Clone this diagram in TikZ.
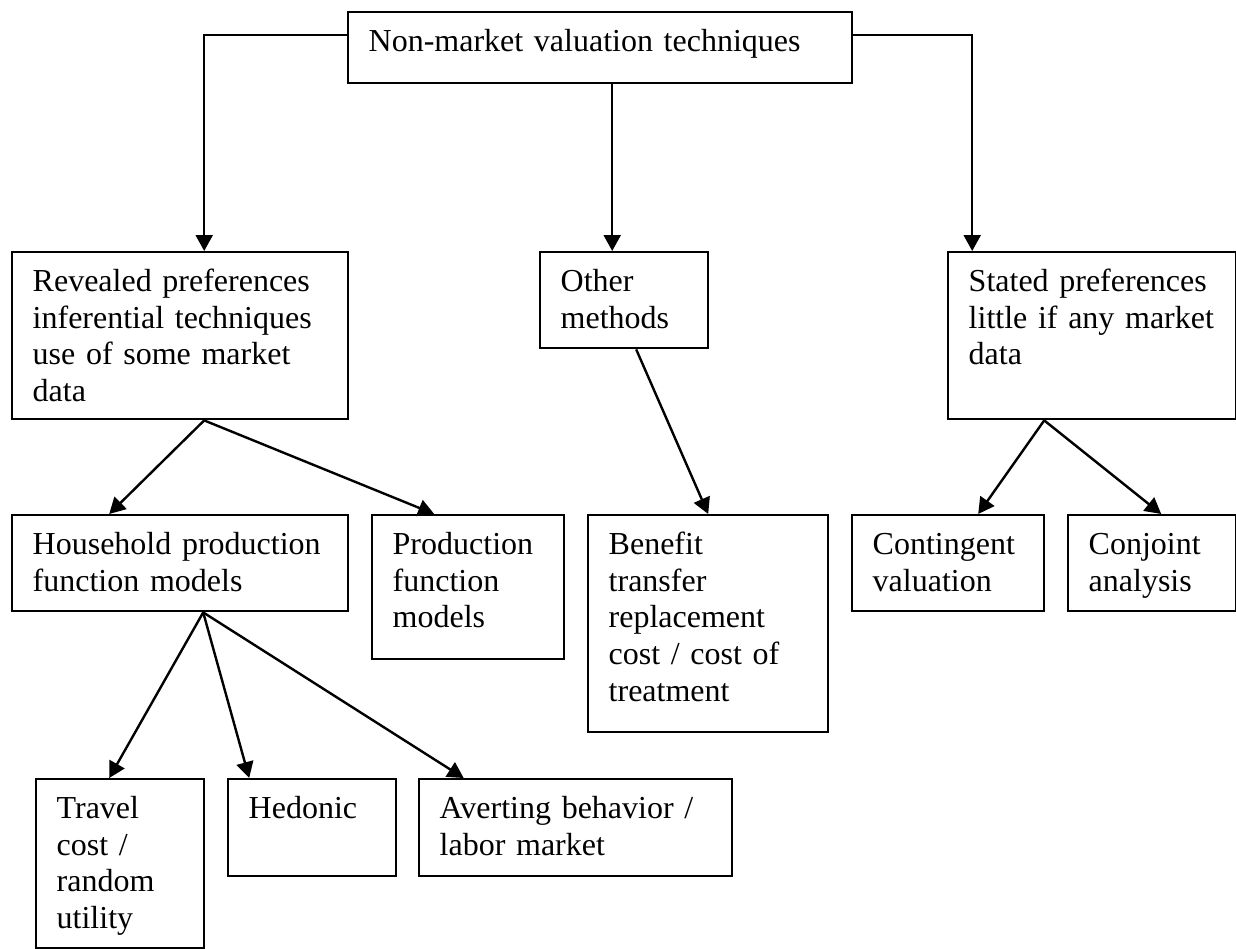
\documentclass[tikz,border=0pt]{standalone}
\usepackage{fontspec}
\setmainfont{Liberation Serif}
\usetikzlibrary{arrows.meta}

\begin{document}
\begin{tikzpicture}[
  x=0.5pt, y=-0.5pt,
  font=\fontsize{16}{18.4}\selectfont,
  box/.style={draw, line width=1.2pt, anchor=north west, align=left,
    inner xsep=10.25pt, inner ysep=7.5pt, text height=12pt},
  link/.style={->, line width=1.2pt},
  >={Triangle[length=8pt, width=8.5pt]},
]
\useasboundingbox (0,0) rectangle (1236,948);
% top level
\node[box, text width=231.5pt, text depth=8.5pt] (top) at (347,11)
  {Non-market valuation techniques};
% three families
\node[box, text width=147.5pt, text depth=56.5pt] (rev) at (11,251)
  {Revealed preferences\\ inferential techniques\\ use of some market\\ data};
\node[box, text width=63.5pt, text depth=21pt] (oth) at (539,251)
  {Other\\ methods};
\node[box, text width=123.5pt, text depth=56.5pt] (sta) at (947,251)
  {Stated preferences\\ little if any market\\ data};
% methods
\node[box, text width=147.5pt, text depth=21pt] (hh) at (11,514)
  {Household production\\ function models};
\node[box, text width=75.5pt, text depth=45pt] (prod) at (371,514)
  {Production\\ function\\ models};
\node[box, text width=99.5pt, text depth=81.5pt] (ben) at (587,514)
  {Benefit\\ transfer\\ replacement\\ cost / cost of\\ treatment};
\node[box, text width=75.5pt, text depth=21pt] (cont) at (851,514)
  {Contingent\\ valuation};
\node[box, text width=63.5pt, text depth=21pt] (conj) at (1067,514)
  {Conjoint\\ analysis};
% household production models
\node[box, text width=63.5pt, text depth=57.5pt] (trav) at (35,778)
  {Travel\\ cost /\\ random\\ utility};
\node[box, text width=63.5pt, text depth=21.5pt] (hed) at (227,778)
  {Hedonic};
\node[box, text width=136pt, text depth=21.5pt] (avert) at (418,778)
  {Averting behavior /\\ labor market};

\coordinate (othin) at ([xshift=-6pt]oth.north);
\draw[link] ([yshift=6.25pt]top.west) -| ([xshift=12pt]rev.north);
\draw[link] (othin |- top.south) -- (othin);
\draw[link] ([yshift=6.25pt]top.east) -| ([xshift=-60pt]sta.north);
\draw[link] ([xshift=12pt]rev.south) -- ([xshift=-35.5pt]hh.north);
\draw[link] ([xshift=12pt]rev.south) -- ([xshift=-17pt]prod.north);
\draw[link] ([xshift=6pt]oth.south) -- (ben.north);
\draw[link] ([xshift=-24pt]sta.south) -- ([xshift=15pt]cont.north);
\draw[link] ([xshift=-24pt]sta.south) -- ([xshift=4.5pt]conj.north);
\draw[link] ([xshift=11.5pt]hh.south) -- ([xshift=-5.5pt]trav.north);
\draw[link] ([xshift=11.5pt]hh.south) -- ([xshift=-31.5pt]hed.north);
\draw[link] ([xshift=11.5pt]hh.south) -- ([xshift=-56pt]avert.north);
\end{tikzpicture}
\end{document}
